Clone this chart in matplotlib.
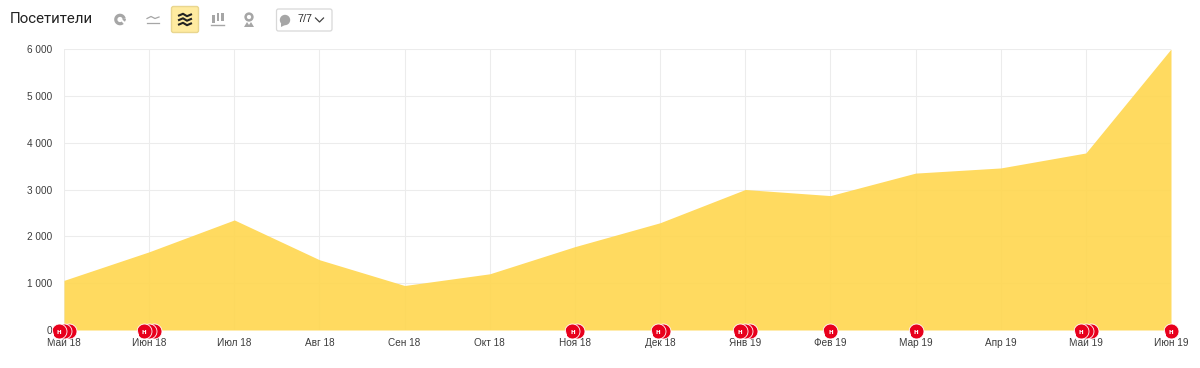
import numpy as np
import matplotlib
matplotlib.use("Agg")
import matplotlib.pyplot as plt
from matplotlib.patches import FancyBboxPatch, Circle, Wedge, Rectangle, Polygon
from matplotlib.path import Path
from matplotlib.transforms import ScaledTranslation

plt.rcParams['font.family'] = ['Liberation Sans', 'DejaVu Sans']

months = ["Май 18", "Июн 18", "Июл 18", "Авг 18", "Сен 18", "Окт 18", "Ноя 18",
          "Дек 18", "Янв 19", "Фев 19", "Мар 19", "Апр 19", "Май 19", "Июн 19"]
visitors = [1060, 1670, 2350, 1500, 950, 1200, 1780, 2290, 3000, 2870, 3350, 3460, 3780, 6000]
y_ticks = [0, 1000, 2000, 3000, 4000, 5000, 6000]
y_labels = ["0", "1 000", "2 000", "3 000", "4 000", "5 000", "6 000"]
note_months = [0, 1, 6, 7, 8, 9, 10, 12, 13]
note_counts = [3, 3, 2, 2, 3, 1, 1, 3, 1]
title = "Посетители"
counter = "7/7"

W, H = 1200, 368
fig = plt.figure(figsize=(W / 100, H / 100), dpi=100, facecolor="white")
ax = fig.add_axes([64 / W, 1 - 330 / H, (1171 - 64) / W, (330 - 49) / H])
xs = list(range(len(months)))
ax.fill_between(xs, visitors, 0, color="#ffd752", alpha=0.92, lw=0, zorder=2)
ax.set_xlim(0, len(months) - 1)
ax.set_ylim(0, 6000)
ax.set_xticks(xs, months)
ax.set_yticks(y_ticks, y_labels)
ax.grid(True, color="#ececec", lw=0.75, zorder=1)
ax.set_axisbelow(True)
for s in ax.spines.values():
    s.set_visible(False)
ax.tick_params(length=0, labelsize=7.2, labelcolor="#3c3c3c")
ax.tick_params(axis="x", pad=5.6)
ax.tick_params(axis="y", pad=8.6)

# pin-shaped note marker: circle with a tail at lower left
ang = np.radians(np.linspace(205, 205 + 320, 60))
pin = np.column_stack([6.5 * np.cos(ang), 6.5 * np.sin(ang)])
pin = np.vstack([pin, [[-4.5, -7.0]], pin[:1]])
pin_path = Path(pin, closed=True)

for m, n in zip(note_months, note_counts):
    start = -5 if n == 3 else (-2.5 if n == 2 else 0)
    for k in reversed(range(n)):
        dx = (start + 5 * k) * 0.72
        tr = ax.transData + ScaledTranslation(dx / 72, -0.72 / 72, fig.dpi_scale_trans)
        ax.plot([m], [0], marker=pin_path, ms=11.6, mfc="#e8001c", mec="white", mew=0.6,
                transform=tr, clip_on=False, zorder=5 + (n - k))
        if k == 0:
            tr_t = ax.transData + ScaledTranslation(dx / 72, -1.8 / 72, fig.dpi_scale_trans)
            ax.text(m, 0, "н", transform=tr_t, color="white", fontsize=5.6, weight="bold",
                    ha="center", va="center", zorder=10, clip_on=False)

# toolbar in pixel coordinates
ui = fig.add_axes([0, 0, 1, 1], facecolor="none")
ui.set_xlim(0, W)
ui.set_ylim(H, 0)
ui.axis("off")
ui.text(10, 19, title, fontsize=10.8, family="Roboto", color="#222222", va="center", ha="left")

grey = "#a6a6a6"
ui.add_patch(Wedge((120, 19.5), 5.8, 50, 350, width=3.2, color=grey, lw=0))
ui.add_patch(Wedge((121, 18.5), 5.0, 5, 40, width=3.2, color=grey, lw=0))
ui.plot([147, 151, 155, 159], [18.5, 16.5, 18.5, 17], color=grey, lw=0.9)
ui.plot([147, 159], [23, 23], color=grey, lw=0.9)

ui.add_patch(FancyBboxPatch((171.5, 6.5), 27, 26, boxstyle="round,pad=0,rounding_size=2",
                            fc="#ffeba0", ec="#e9d68f", lw=1))
for yy in (15, 19.5, 24):
    ui.plot([179, 183, 187, 191], [yy + 0.5, yy - 1.2, yy + 1.2, yy - 0.5], color="#222222", lw=1.5)

for x0, top in zip((212, 216.5, 221), (15, 13, 13)):
    ui.add_patch(Rectangle((x0, top), 2.6, 8, color=grey, lw=0))
ui.plot([211, 224], [25, 25], color=grey, lw=1)

ui.add_patch(Circle((249, 17), 3.4, fc="none", ec=grey, lw=1.8))
ui.add_patch(Polygon([[244, 27], [247, 22], [249, 25], [251, 22], [254, 27]], color=grey, lw=0))

ui.add_patch(FancyBboxPatch((276.5, 9), 55.5, 22, boxstyle="round,pad=0,rounding_size=2",
                            fc="white", ec="#d8d8d8", lw=0.9))
ui.add_patch(Circle((285, 20), 5.2, color=grey, lw=0))
ui.add_patch(Polygon([[281, 23], [281, 27], [285, 25]], color=grey, lw=0))
ui.text(297, 19.5, counter, fontsize=7.8, color="#333333", va="center", ha="left")
ui.plot([315.5, 319.5, 323.5], [18, 22, 18], color="#444444", lw=0.9)

fig.savefig("out.png", dpi=100)
